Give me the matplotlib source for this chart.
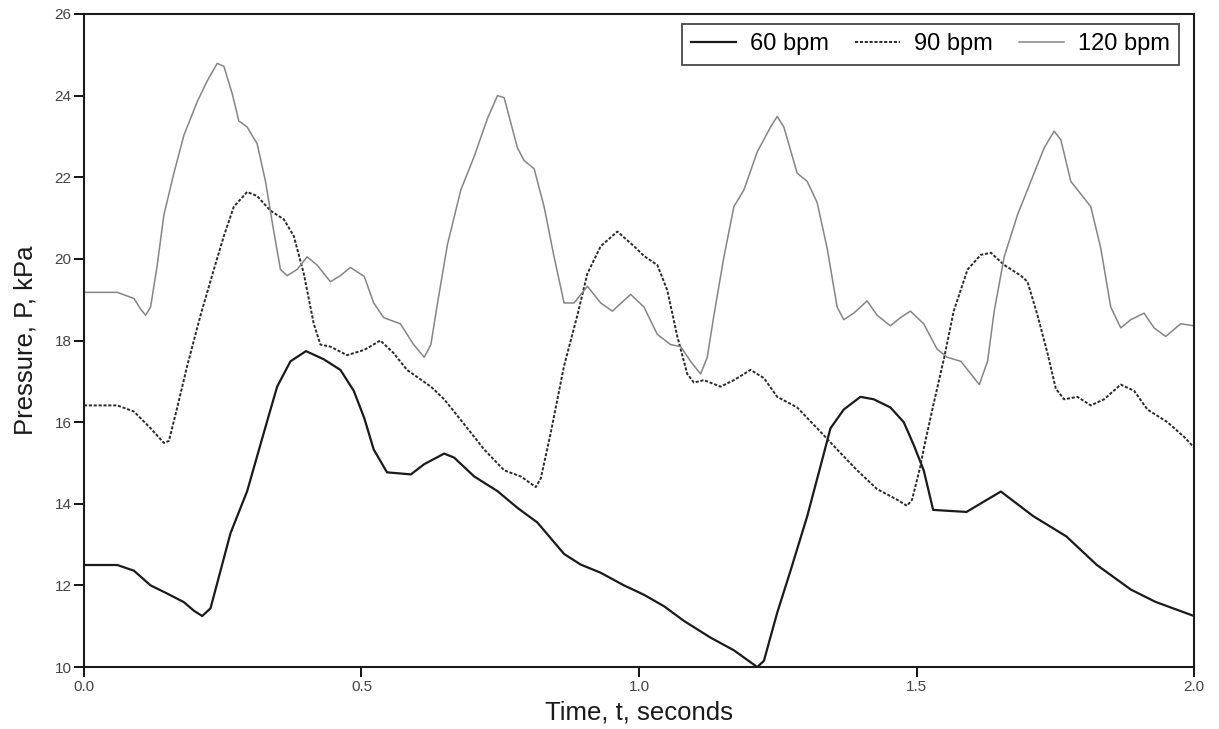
import matplotlib
matplotlib.use("Agg")
import matplotlib.pyplot as plt

plt.rcParams['font.family'] = ['Liberation Sans', 'DejaVu Sans']

# ---- data ----
t60 = [0.0, 0.06, 0.09, 0.12, 0.15, 0.18, 0.198, 0.213, 0.228, 0.246, 0.264, 0.294, 0.324,
       0.348, 0.372, 0.40, 0.432, 0.462, 0.486, 0.505, 0.522, 0.546, 0.589, 0.613, 0.649,
       0.667, 0.703, 0.745, 0.781, 0.817, 0.865, 0.895, 0.931, 0.973, 1.009, 1.045, 1.081,
       1.129, 1.171, 1.213, 1.225, 1.249, 1.273, 1.303, 1.327, 1.345, 1.369, 1.399, 1.423,
       1.453, 1.477, 1.495, 1.513, 1.53, 1.59, 1.652, 1.71, 1.77, 1.825, 1.886, 1.93, 2.0]
p60 = [12.5, 12.5, 12.36, 12.0, 11.8, 11.59, 11.38, 11.25, 11.44, 12.36, 13.28, 14.31, 15.74,
       16.87, 17.49, 17.74, 17.54, 17.28, 16.77, 16.1, 15.33, 14.77, 14.72, 14.97, 15.23,
       15.13, 14.67, 14.31, 13.9, 13.54, 12.77, 12.51, 12.31, 12.0, 11.77, 11.49, 11.13,
       10.72, 10.41, 10.0, 10.15, 11.33, 12.36, 13.69, 14.92, 15.85, 16.31, 16.62, 16.56,
       16.36, 16.0, 15.44, 14.82, 13.85, 13.8, 14.3, 13.7, 13.2, 12.5, 11.9, 11.6, 11.25]

t90 = [0.0, 0.06, 0.09, 0.12, 0.144, 0.153, 0.168, 0.186, 0.21, 0.234, 0.252, 0.27, 0.294,
       0.312, 0.336, 0.36, 0.378, 0.396, 0.414, 0.426, 0.444, 0.474, 0.505, 0.534, 0.558,
       0.582, 0.625, 0.649, 0.685, 0.721, 0.757, 0.787, 0.814, 0.823, 0.841, 0.865, 0.889,
       0.907, 0.931, 0.961, 0.991, 1.009, 1.033, 1.051, 1.069, 1.087, 1.099, 1.117, 1.147,
       1.171, 1.201, 1.225, 1.249, 1.285, 1.321, 1.357, 1.393, 1.429, 1.465, 1.483, 1.492,
       1.507, 1.5135, 1.531, 1.55, 1.567, 1.592, 1.616, 1.634, 1.658, 1.688, 1.70, 1.718,
       1.736, 1.751, 1.766, 1.79, 1.814, 1.838, 1.868, 1.892, 1.916, 1.952, 1.982, 2.0]
p90 = [16.41, 16.41, 16.26, 15.85, 15.49, 15.54, 16.36, 17.38, 18.62, 19.74, 20.56, 21.28, 21.64,
       21.54, 21.18, 20.97, 20.56, 19.64, 18.41, 17.9, 17.85, 17.64, 17.77, 18.0, 17.69,
       17.28, 16.87, 16.56, 15.95, 15.33, 14.82, 14.67, 14.41, 14.62, 15.74, 17.38, 18.62,
       19.64, 20.31, 20.67, 20.31, 20.07, 19.85, 19.23, 18.1, 17.18, 16.97, 17.03, 16.87,
       17.03, 17.28, 17.08, 16.62, 16.36, 15.85, 15.33, 14.82, 14.36, 14.1, 13.95, 14.1,
       14.92, 15.38, 16.46, 17.59, 18.72, 19.74, 20.1, 20.15, 19.85, 19.59, 19.44, 18.62,
       17.69, 16.82, 16.56, 16.62, 16.41, 16.56, 16.92, 16.77, 16.31, 16.0, 15.64, 15.38]

t120 = [0.0, 0.06, 0.09, 0.102, 0.111, 0.12, 0.132, 0.144, 0.162, 0.18, 0.204, 0.222, 0.24,
        0.252, 0.267, 0.279, 0.294, 0.312, 0.327, 0.342, 0.354, 0.366, 0.384, 0.402, 0.42,
        0.444, 0.462, 0.48, 0.505, 0.522, 0.54, 0.57, 0.594, 0.613, 0.625, 0.637, 0.655,
        0.679, 0.703, 0.727, 0.745, 0.757, 0.781, 0.793, 0.811, 0.829, 0.847, 0.865, 0.883,
        0.907, 0.931, 0.952, 0.985, 1.009, 1.033, 1.057, 1.075, 1.093, 1.111, 1.123, 1.135,
        1.153, 1.171, 1.189, 1.213, 1.237, 1.249, 1.261, 1.285, 1.303, 1.321, 1.339, 1.357,
        1.369, 1.387, 1.411, 1.429, 1.453, 1.471, 1.489, 1.513, 1.537, 1.555, 1.58, 1.598,
        1.613, 1.628, 1.64, 1.658, 1.682, 1.706, 1.73, 1.748, 1.76, 1.778, 1.796, 1.814,
        1.832, 1.85, 1.868, 1.886, 1.91, 1.928, 1.949, 1.976, 2.0]
p120 = [19.18, 19.18, 19.03, 18.77, 18.62, 18.82, 19.85, 21.08, 22.1, 23.03, 23.85, 24.36, 24.79,
        24.72, 24.05, 23.38, 23.23, 22.82, 21.9, 20.67, 19.74, 19.59, 19.74, 20.05, 19.85,
        19.44, 19.59, 19.79, 19.57, 18.92, 18.56, 18.41, 17.9, 17.59, 17.9, 18.92, 20.36,
        21.69, 22.51, 23.44, 24.0, 23.95, 22.72, 22.41, 22.21, 21.28, 20.05, 18.92, 18.92,
        19.33, 18.92, 18.72, 19.13, 18.82, 18.15, 17.9, 17.85, 17.49, 17.18, 17.59, 18.62,
        20.05, 21.28, 21.69, 22.62, 23.23, 23.49, 23.23, 22.1, 21.9, 21.38, 20.26, 18.82,
        18.51, 18.67, 18.97, 18.62, 18.36, 18.56, 18.72, 18.41, 17.79, 17.59, 17.49, 17.18,
        16.92, 17.49, 18.72, 20.05, 21.08, 21.9, 22.72, 23.13, 22.92, 21.9, 21.59, 21.28,
        20.26, 18.82, 18.31, 18.51, 18.67, 18.31, 18.1, 18.41, 18.36]

series_labels = ['60 bpm', '90 bpm', '120 bpm']
xticks = [0.0, 0.5, 1.0, 1.5, 2.0]
xticklabels = ['0.0', '0.5', '1.0', '1.5', '2.0']
yticks = [10, 12, 14, 16, 18, 20, 22, 24, 26]

# ---- figure ----
fig = plt.figure(figsize=(12.19, 7.29), dpi=100)
ax = fig.add_axes([0.0689, 0.085, 0.9106, 0.8958])

ax.plot(t60, p60, color='#1a1a1a', lw=1.6, ls='-', label=series_labels[0])
ax.plot(t90, p90, color='#2a2a2a', lw=1.4, ls=(0, (1.6, 0.9)), label=series_labels[1])
ax.plot(t120, p120, color='#858585', lw=1.1, ls='-', label=series_labels[2])

ax.set_xlim(0, 2.0)
ax.set_ylim(10, 26)
ax.set_xticks(xticks)
ax.set_xticklabels(xticklabels)
ax.set_yticks(yticks)
ax.tick_params(axis='both', direction='out', length=7, width=1.3, labelsize=11,
               labelcolor='#444444', pad=2)

for s in ax.spines.values():
    s.set_linewidth(1.5)
    s.set_color('#1a1a1a')

ax.set_xlabel('Time, t, seconds', fontsize=18.5, color='#1a1a1a', labelpad=5)
ax.set_ylabel('Pressure, P, kPa', fontsize=18.5, color='#1a1a1a', labelpad=12)

leg = ax.legend(loc='upper right', bbox_to_anchor=(0.9865, 0.985), ncol=3, fontsize=17,
                frameon=True, fancybox=False, handlelength=1.9, columnspacing=1.1,
                handletextpad=0.6, borderpad=0.4, borderaxespad=0.0)
leg.get_frame().set_edgecolor('#1a1a1a')
leg.get_frame().set_linewidth(1.3)

fig.savefig('out.png', dpi=100)
